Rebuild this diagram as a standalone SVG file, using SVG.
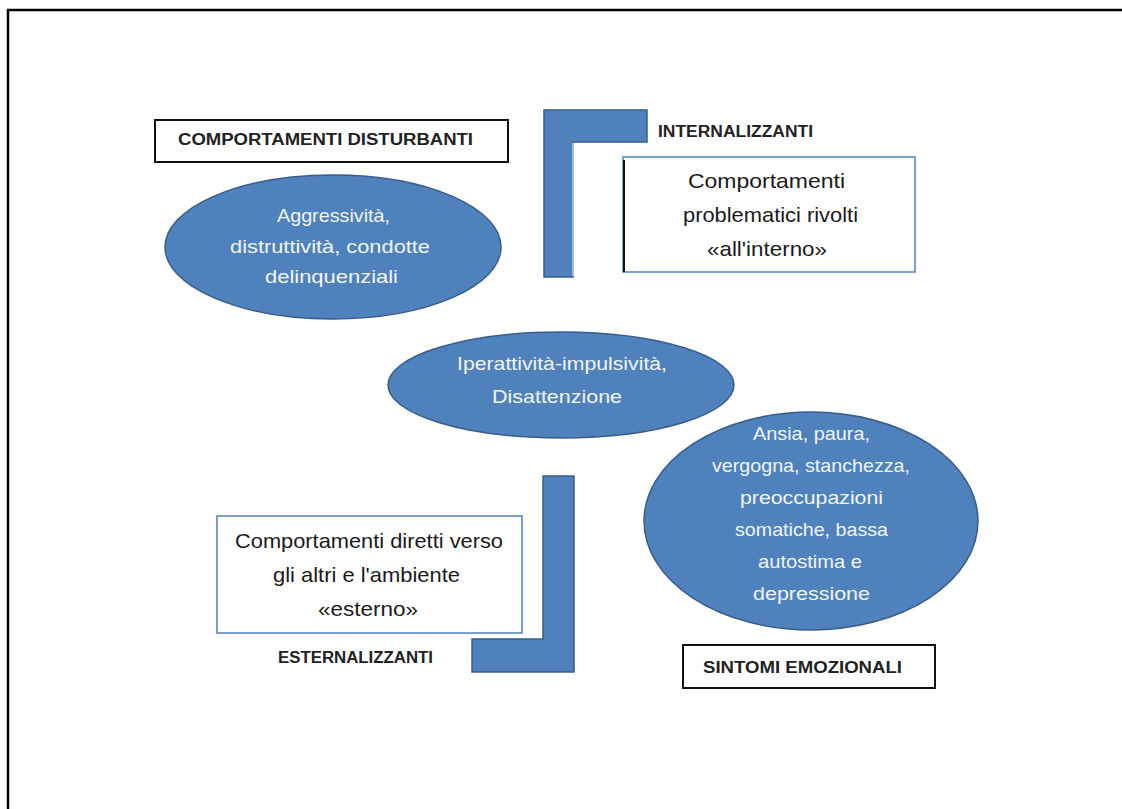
<svg xmlns="http://www.w3.org/2000/svg" width="1122" height="809" viewBox="0 0 1122 809">
<style>
.ell{fill:#4F81BD;stroke:#385D8A;stroke-width:1.5}
.lshape{fill:#4F81BD;stroke:#385D8A;stroke-width:1.5}
.et{font-family:"Liberation Sans",Arial,sans-serif;font-size:18.5px;fill:#F2F5FA}
.bt{font-family:"Liberation Sans",Arial,sans-serif;font-size:21px;fill:#1a1a1a}
.lab{font-family:"Liberation Sans",Arial,sans-serif;font-size:16px;font-weight:bold;fill:#222}
.bbox{fill:#fff;stroke:#111;stroke-width:2}
.blbox{fill:#fff;stroke:#4F81BD;stroke-width:1.5}
</style>
<rect width="1122" height="809" fill="#fff"/>
<polyline points="8,809 8,10 1122,10" fill="none" stroke="#000" stroke-width="2.5"/>

<g id="l-internalizzanti">
<polygon class="lshape" points="544,110 647,110 647,142 573,142 573,277 544,277"/>
<line x1="573" y1="143" x2="573" y2="276" stroke="#C9D6E8" stroke-width="1.5"/>
<text class="lab" x="658" y="137" textLength="155" lengthAdjust="spacingAndGlyphs">INTERNALIZZANTI</text>
</g>

<g id="l-esternalizzanti">
<polygon class="lshape" points="543,476 574,476 574,672 472,672 472,639 543,639"/>
<text class="lab" x="278" y="663" textLength="155" lengthAdjust="spacingAndGlyphs">ESTERNALIZZANTI</text>
</g>

<g id="box-disturbanti">
<rect class="bbox" x="155" y="120" width="353" height="42"/>
<text class="lab" x="178" y="145" textLength="295" lengthAdjust="spacingAndGlyphs">COMPORTAMENTI DISTURBANTI</text>
</g>

<g id="ell-aggressivita">
<ellipse class="ell" cx="333" cy="247" rx="168" ry="72"/>
<text class="et" x="277" y="222" textLength="113" lengthAdjust="spacingAndGlyphs">Aggressività,</text>
<text class="et" x="230" y="253" textLength="200" lengthAdjust="spacingAndGlyphs">distruttività, condotte</text>
<text class="et" x="265" y="283" textLength="133" lengthAdjust="spacingAndGlyphs">delinquenziali</text>
</g>

<g id="box-interno">
<rect class="blbox" x="623" y="157" width="292" height="115"/>
<line x1="624" y1="160" x2="624" y2="272" stroke="#111" stroke-width="2"/>
<text class="bt" x="688" y="188" textLength="157" lengthAdjust="spacingAndGlyphs">Comportamenti</text>
<text class="bt" x="683" y="222" textLength="175" lengthAdjust="spacingAndGlyphs">problematici rivolti</text>
<text class="bt" x="707" y="256" textLength="120" lengthAdjust="spacingAndGlyphs">«all'interno»</text>
</g>

<g id="ell-iperattivita">
<ellipse class="ell" cx="561" cy="385" rx="173" ry="53"/>
<text class="et" x="457" y="370" textLength="210" lengthAdjust="spacingAndGlyphs">Iperattività-impulsività,</text>
<text class="et" x="492" y="403" textLength="130" lengthAdjust="spacingAndGlyphs">Disattenzione</text>
</g>

<g id="ell-ansia">
<ellipse class="ell" cx="811" cy="521" rx="167" ry="109"/>
<text class="et" x="753" y="440" textLength="117" lengthAdjust="spacingAndGlyphs">Ansia, paura,</text>
<text class="et" x="712" y="472" textLength="198" lengthAdjust="spacingAndGlyphs">vergogna, stanchezza,</text>
<text class="et" x="740" y="504" textLength="143" lengthAdjust="spacingAndGlyphs">preoccupazioni</text>
<text class="et" x="735" y="536" textLength="153" lengthAdjust="spacingAndGlyphs">somatiche, bassa</text>
<text class="et" x="758" y="568" textLength="104" lengthAdjust="spacingAndGlyphs">autostima e</text>
<text class="et" x="753" y="600" textLength="117" lengthAdjust="spacingAndGlyphs">depressione</text>
</g>

<g id="box-esterno">
<rect class="blbox" x="217" y="516" width="305" height="117"/>
<text class="bt" x="235" y="548" textLength="268" lengthAdjust="spacingAndGlyphs">Comportamenti diretti verso</text>
<text class="bt" x="273" y="582" textLength="187" lengthAdjust="spacingAndGlyphs">gli altri e l'ambiente</text>
<text class="bt" x="318" y="616" textLength="100" lengthAdjust="spacingAndGlyphs">«esterno»</text>
</g>

<g id="box-sintomi">
<rect class="bbox" x="683" y="645" width="252" height="43"/>
<text class="lab" x="703" y="673" textLength="199" lengthAdjust="spacingAndGlyphs">SINTOMI EMOZIONALI</text>
</g>

<g id="connectors"></g>
</svg>
